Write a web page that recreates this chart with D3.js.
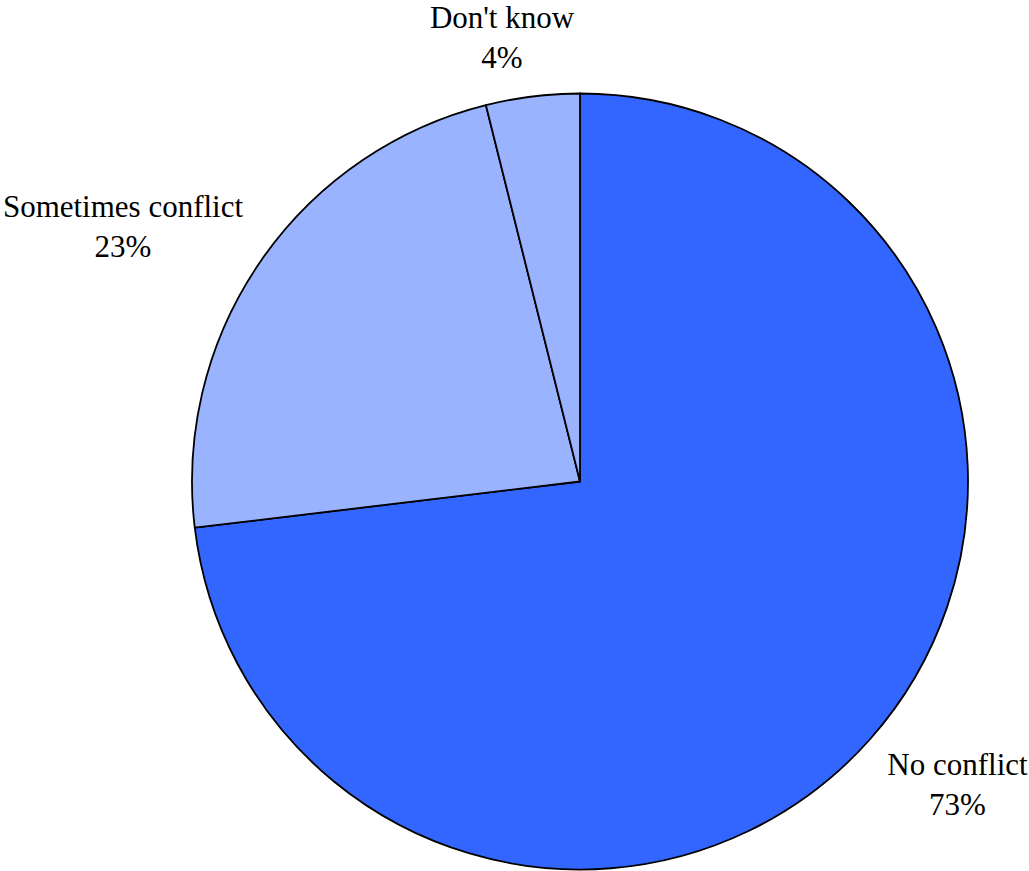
<!DOCTYPE html>
<html>
<head>
<meta charset="utf-8">
<script src="https://cdn.jsdelivr.net/npm/d3@7"></script>
<style>
html, body { margin: 0; padding: 0; background: #ffffff; }
svg { display: block; }
</style>
</head>
<body>
<svg id="chart" width="1029" height="871"></svg>
<script>
// ---- data ----
const categories = ["No conflict", "Sometimes conflict", "Don't know"];
const values = [73.1, 23.0, 3.9];
const percentLabels = ["73%", "23%", "4%"];
const colors = ["#3366FF", "#99B3FF", "#99B3FF"];

// ---- layout ----
const cx = 580, cy = 481.5, radius = 388;
const fontSize = 31, lineGap = 40;
const labelLayout = [
  { x: 957.5, y: 775 },
  { x: 123, y: 217 },
  { x: 502, y: 28 }
];

const svg = d3.select("#chart");
const data = categories.map((c, i) => ({ category: c, value: values[i], label: percentLabels[i], color: colors[i] }));

const pie = d3.pie().value(d => d.value).sort(null).startAngle(0).endAngle(2 * Math.PI);
const arc = d3.arc().innerRadius(0).outerRadius(radius);

const g = svg.append("g").attr("transform", `translate(${cx},${cy})`);
g.selectAll("path")
  .data(pie(data))
  .join("path")
  .attr("d", arc)
  .attr("fill", d => d.data.color)
  .attr("stroke", "#000")
  .attr("stroke-width", 1.8)
  .attr("stroke-linejoin", "round");

const labels = svg.append("g").selectAll("text")
  .data(data)
  .join("text")
  .attr("text-anchor", "middle")
  .style("font-family", '"Liberation Serif"')
  .style("font-size", fontSize + "px")
  .attr("fill", "#000")
  .attr("x", (d, i) => labelLayout[i].x)
  .attr("y", (d, i) => labelLayout[i].y);
labels.append("tspan").text(d => d.category);
labels.append("tspan")
  .attr("x", (d, i) => labelLayout[i].x)
  .attr("dy", lineGap)
  .text(d => d.label);
</script>
</body>
</html>
